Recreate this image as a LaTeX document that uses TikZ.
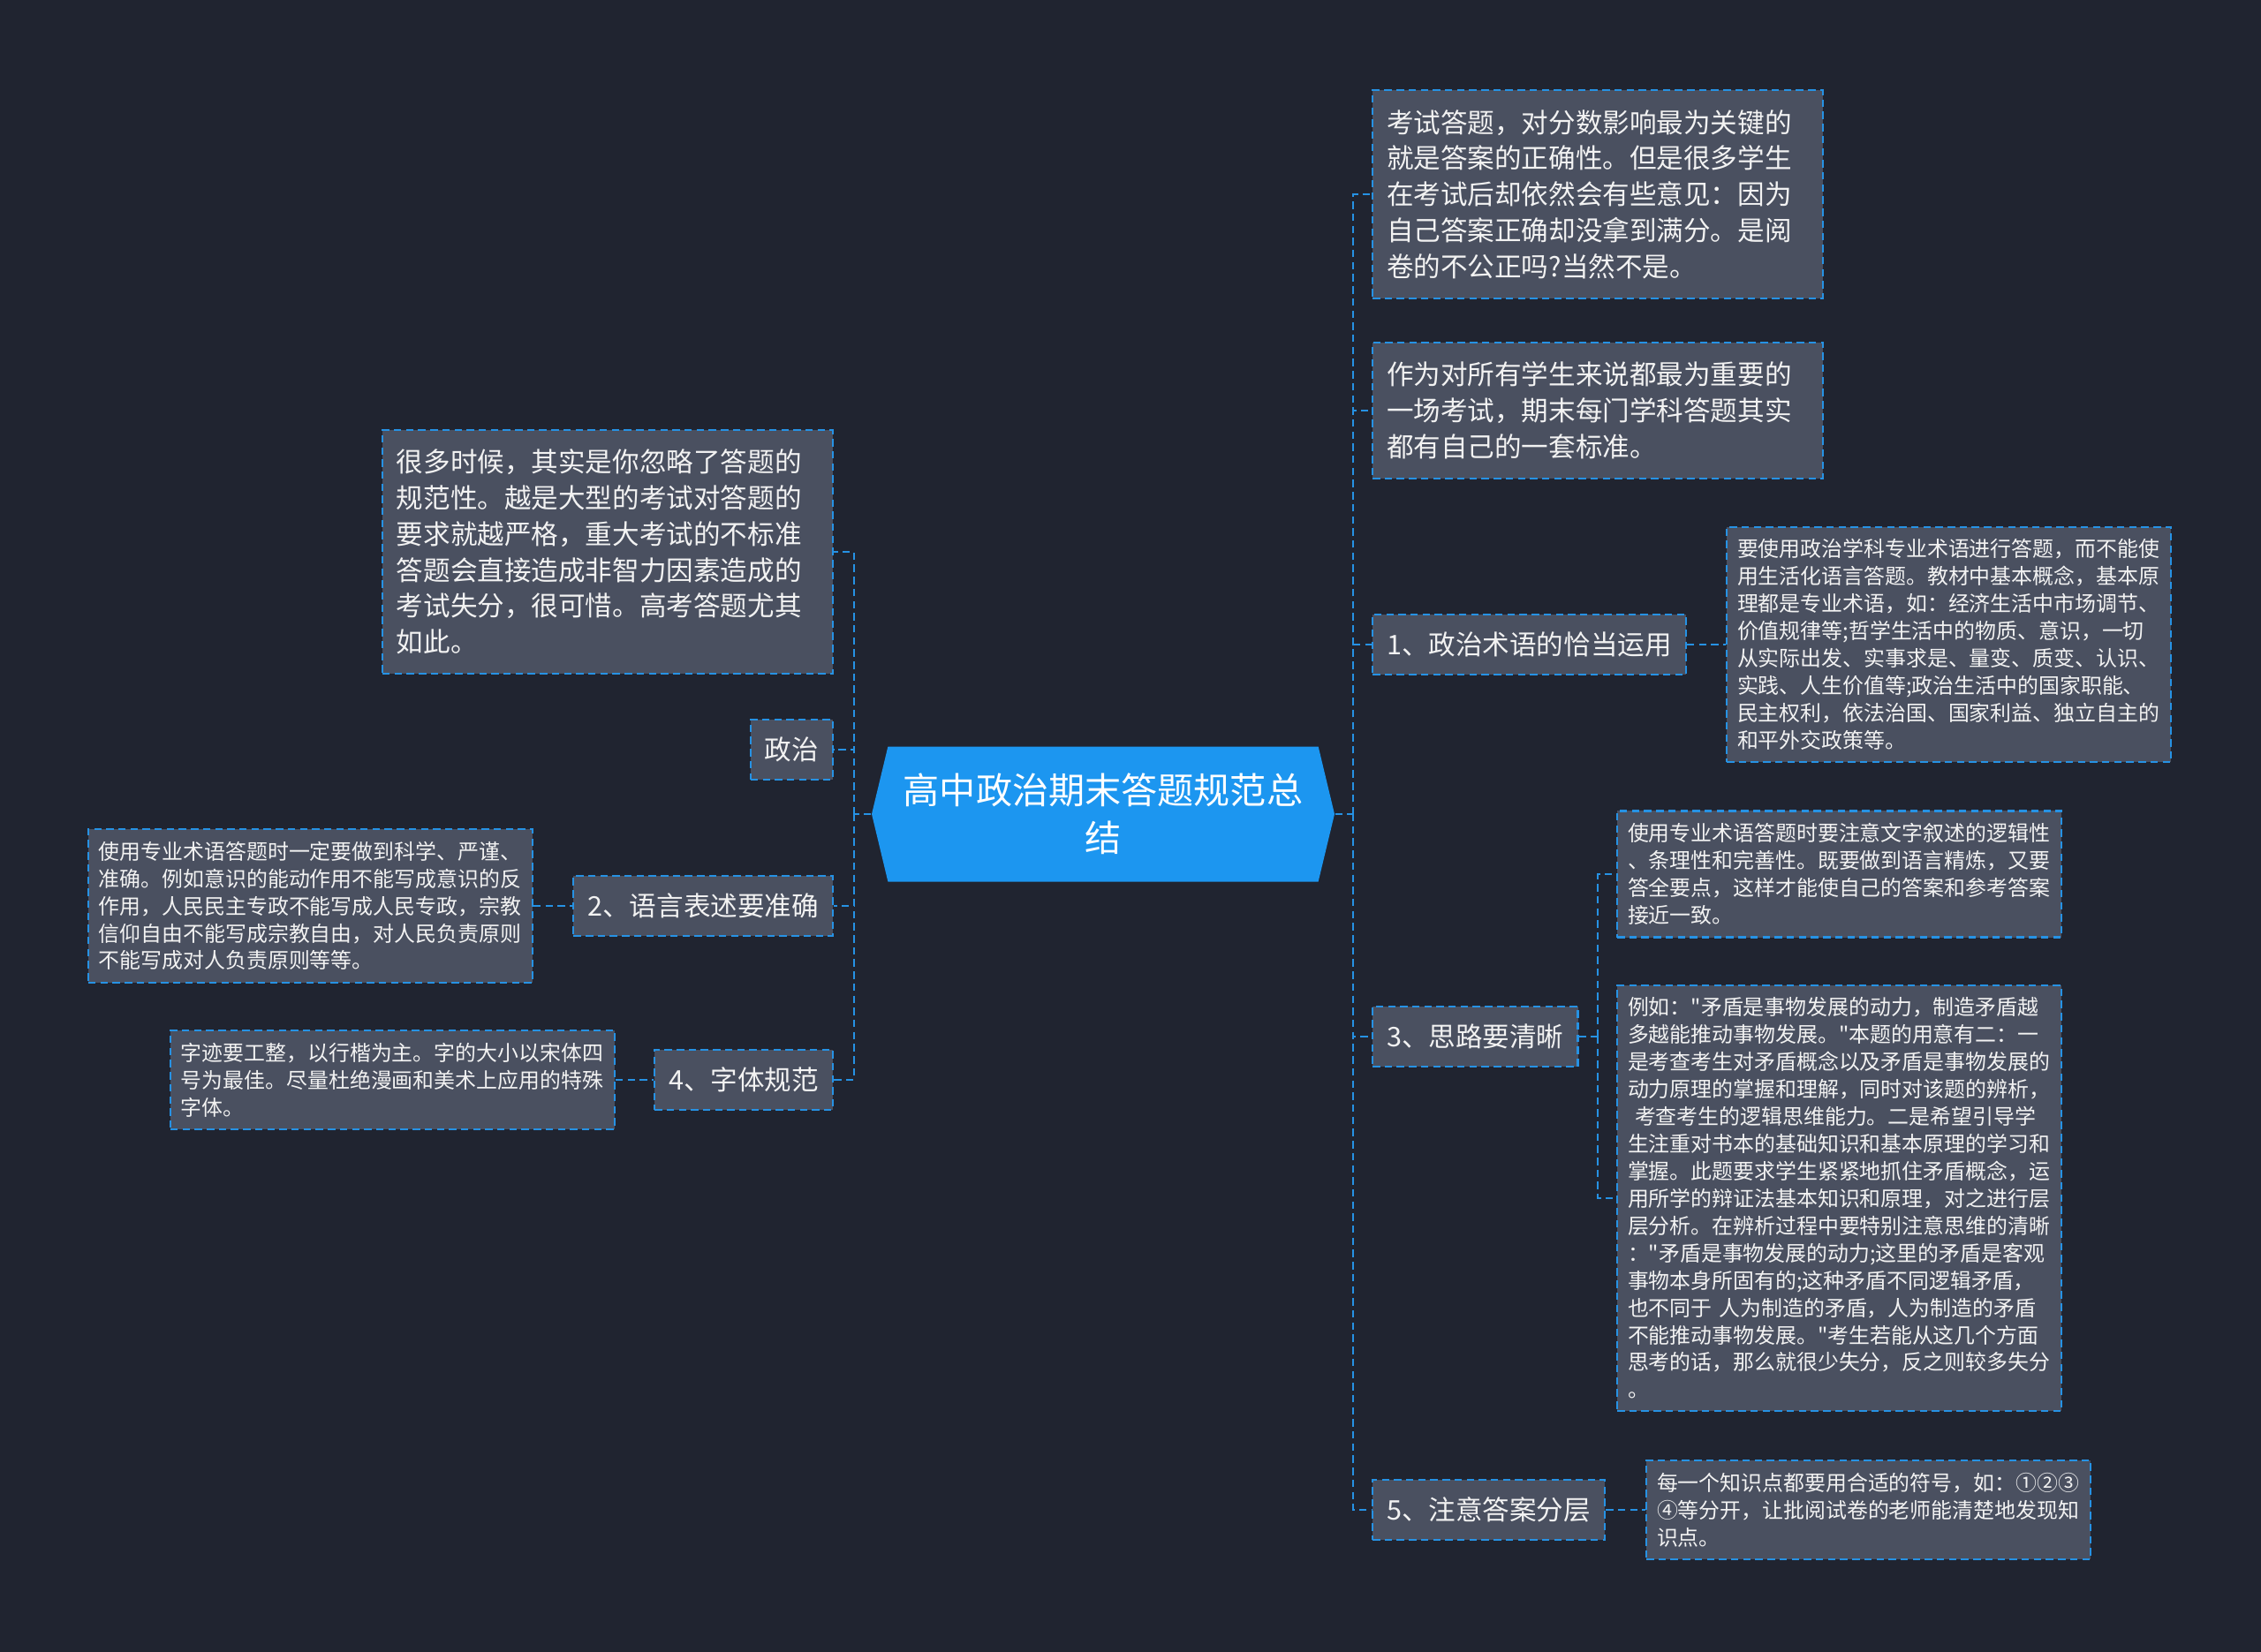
\documentclass[tikz,border=0pt]{standalone}
\usepackage{fontspec}
\setmainfont{Noto Sans CJK SC}
\newfontfamily\cnfont{Noto Sans CJK SC}
\usepackage{tikz}
\usetikzlibrary{shapes.symbols,positioning,calc}
\definecolor{mapbg}{RGB}{32,36,48}
\definecolor{boxfill}{RGB}{74,80,96}
\definecolor{rootblue}{RGB}{28,150,240}
\definecolor{linkblue}{RGB}{38,146,228}
\definecolor{textC}{RGB}{242,242,242}
\tikzset{
  topic/.style={rectangle, draw=linkblue, fill=boxfill, line width=0.6pt,
                dash pattern=on 2.4pt off 1.5pt, text=textC,
                inner xsep=0.16cm, inner ysep=0.2cm,
                font=\cnfont\fontsize{8.7}{11.6}\selectfont},
  note/.style={topic, text width=4.78cm, align=left, inner ysep=0.22cm},
  leaf/.style={topic, text width=4.79cm, align=left, inner xsep=0.12cm,
               inner ysep=0.14cm, font=\cnfont\fontsize{6.8}{8.8}\selectfont},
  link/.style={draw=linkblue, line width=0.6pt, dash pattern=on 2.4pt off 1.5pt},
  rootnode/.style={signal, signal to=west and east, signal pointer angle=153,
                   fill=rootblue, text=white, align=center,
                   minimum width=5.24cm, minimum height=1.53cm, inner sep=0pt,
                   font=\cnfont\fontsize{11.7}{15.4}\selectfont},
}
\begin{document}
\begin{tikzpicture}
  \fill[mapbg] (0,0) rectangle (25.6,-18.71);
  \useasboundingbox (0,0) rectangle (25.6,-18.71);

  % root
  \node[rootnode] (root) at (12.49,-9.22) {高中政治期末答题规范总\\结};

  % right branches
  \node[note, anchor=west] (r1) at (15.53,-2.20)
    {考试答题，对分数影响最为关键的\\就是答案的正确性。但是很多学生\\在考试后却依然会有些意见：因为\\自己答案正确却没拿到满分。是阅\\卷的不公正吗?当然不是。};
  \node[note, anchor=west] (r2) at (15.53,-4.65)
    {作为对所有学生来说都最为重要的\\一场考试，期末每门学科答题其实\\都有自己的一套标准。};
  \node[topic, anchor=west] (r3) at (15.53,-7.30) {1、政治术语的恰当运用};
  \node[leaf, anchor=west] (r3x) at (19.54,-7.30)
    {要使用政治学科专业术语进行答题，而不能使\\用生活化语言答题。教材中基本概念，基本原\\理都是专业术语，如：经济生活中市场调节、\\价值规律等;哲学生活中的物质、意识，一切\\从实际出发、实事求是、量变、质变、认识、\\实践、人生价值等;政治生活中的国家职能、\\民主权利，依法治国、国家利益、独立自主的\\和平外交政策等。};
  \node[topic, anchor=west] (r4) at (15.53,-11.74) {3、思路要清晰};
  \node[leaf, anchor=west] (r4a) at (18.30,-9.90)
    {使用专业术语答题时要注意文字叙述的逻辑性\\、条理性和完善性。既要做到语言精炼，又要\\答全要点，这样才能使自己的答案和参考答案\\接近一致。};
  \node[leaf, anchor=west] (r4b) at (18.30,-13.57)
    {例如："矛盾是事物发展的动力，制造矛盾越\\多越能推动事物发展。"本题的用意有二：一\\是考查考生对矛盾概念以及矛盾是事物发展的\\动力原理的掌握和理解，同时对该题的辨析，\\\ 考查考生的逻辑思维能力。二是希望引导学\\生注重对书本的基础知识和基本原理的学习和\\掌握。此题要求学生紧紧地抓住矛盾概念，运\\用所学的辩证法基本知识和原理，对之进行层\\层分析。在辨析过程中要特别注意思维的清晰\\："矛盾是事物发展的动力;这里的矛盾是客观\\事物本身所固有的;这种矛盾不同逻辑矛盾，\\也不同于 人为制造的矛盾，人为制造的矛盾\\不能推动事物发展。"考生若能从这几个方面\\思考的话，那么就很少失分，反之则较多失分\\。};
  \node[topic, anchor=west] (r5) at (15.53,-17.10) {5、注意答案分层};
  \node[leaf, anchor=west] (r5x) at (18.63,-17.10)
    {每一个知识点都要用合适的符号，如：①②③\\④等分开，让批阅试卷的老师能清楚地发现知\\识点。};

  % left branches
  \node[note, anchor=east] (l1) at (9.44,-6.25)
    {很多时候，其实是你忽略了答题的\\规范性。越是大型的考试对答题的\\要求就越严格，重大考试的不标准\\答题会直接造成非智力因素造成的\\考试失分，很可惜。高考答题尤其\\如此。};
  \node[topic, anchor=east] (l2) at (9.44,-8.49) {政治};
  \node[topic, anchor=east] (l3) at (9.44,-10.26) {2、语言表述要准确};
  \node[leaf, anchor=east] (l3x) at (6.04,-10.26)
    {使用专业术语答题时一定要做到科学、严谨、\\准确。例如意识的能动作用不能写成意识的反\\作用，人民民主专政不能写成人民专政，宗教\\信仰自由不能写成宗教自由，对人民负责原则\\不能写成对人负责原则等等。};
  \node[topic, anchor=east] (l4) at (9.44,-12.23) {4、字体规范};
  \node[leaf, anchor=east] (l4x) at (6.97,-12.23)
    {字迹要工整，以行楷为主。字的大小以宋体四\\号为最佳。尽量杜绝漫画和美术上应用的特殊\\字体。};

  % connectors
  \coordinate (rt) at (15.32,-9.22);
  \coordinate (lt) at (9.67,-9.22);
  \coordinate (r4j) at (18.09,-11.74);
  \draw[link] (root.east) -- (rt);
  \draw[link] (root.west) -- (lt);
  \foreach \n in {r1,r2,r3,r4,r5} \draw[link] (rt) |- (\n.west);
  \foreach \n in {l1,l2,l3,l4} \draw[link] (lt) |- (\n.east);
  \draw[link] (r3.east) -- (r3x.west);
  \draw[link] (r5.east) -- (r5x.west);
  \draw[link] (r4.east) -- (r4j);
  \draw[link] (r4j) |- (r4a.west);
  \draw[link] (r4j) |- (r4b.west);
  \draw[link] (l3x.east) -- (l3.west);
  \draw[link] (l4x.east) -- (l4.west);
\end{tikzpicture}
\end{document}
